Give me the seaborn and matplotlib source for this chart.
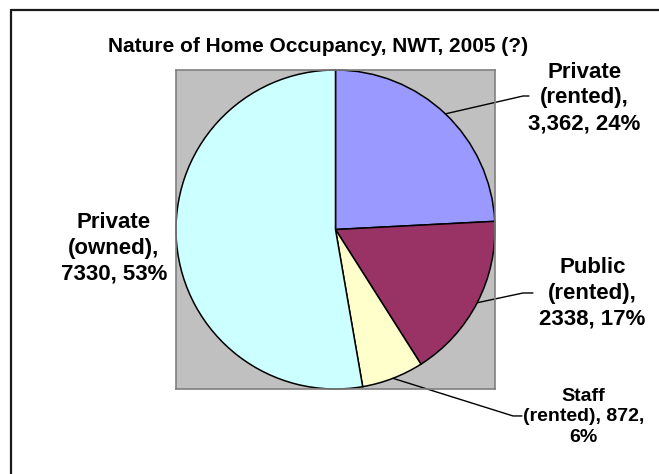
import matplotlib
matplotlib.use("Agg")
import matplotlib.pyplot as plt
import numpy as np
import seaborn as sns
from matplotlib.lines import Line2D

# data
categories = ["Private (rented)", "Public (rented)", "Staff (rented)", "Private (owned)"]
counts = [3362, 2338, 872, 7330]
count_labels = ["3,362", "2338", "872", "7330"]
colors = ["#9999FF", "#993366", "#FFFFCC", "#CCFFFF"]
title = "Nature of Home Occupancy, NWT, 2005 (?)"

sns.set_theme(style="white")
plt.rcParams["font.family"] = ["Liberation Sans", "DejaVu Sans"]

W, H = 659, 474
fig = plt.figure(figsize=(W / 100, H / 100), dpi=100)
fig.patch.set_facecolor("white")

# chart-area border (left and top edges visible, rest cropped)
fig.add_artist(Line2D([11 / W, 11 / W], [0, 1 - 10 / H], color="#1a1a1a", lw=1.6))
fig.add_artist(Line2D([11 / W, 1], [1 - 10 / H, 1 - 10 / H], color="#1a1a1a", lw=1.6))

# plot area: gray square holding the pie
ax = fig.add_axes([176 / W, (H - 389) / H, 319 / W, 319 / H])
wedges, _ = ax.pie(counts, colors=colors, startangle=90, counterclock=False,
                   radius=1, wedgeprops=dict(edgecolor="black", linewidth=1.1))
ax.set_xlim(-1, 1)
ax.set_ylim(-1, 1)
ax.set_frame_on(True)
ax.set_facecolor("#C0C0C0")
for sp in ax.spines.values():
    sp.set_visible(True)
    sp.set_color("#808080")
    sp.set_linewidth(1.2)

total = sum(counts)
texts = []
for cat, c, cl in zip(categories, counts, count_labels):
    pct = round(100 * c / total)
    name, kind = cat.split(" ")
    texts.append((name, kind, cl, pct))

# label layout (data units, pie radius = 1)
text_pos = [(1.56, 0.825), (1.61, -0.40), (1.555, -1.175), (-1.39, -0.12)]
elbows = [[(1.176, 0.837), (1.213, 0.837)],
          [(1.176, -0.398), (1.238, -0.398)],
          [(1.113, -1.169), (1.169, -1.169)],
          None]
sizes = [16, 16, 14, 16]

for w, (name, kind, cl, pct), pos, elb, fs in zip(wedges, texts, text_pos, elbows, sizes):
    if name == "Staff":
        s = f"{name}\n{kind}, {cl},\n{pct}%"
    else:
        s = f"{name}\n{kind},\n{cl}, {pct}%"
    ax.text(pos[0], pos[1], s, ha="center", va="center", fontsize=fs,
            fontweight="bold", linespacing=1.3, color="black", clip_on=False)
    if elb is not None:
        mid = np.deg2rad((w.theta1 + w.theta2) / 2)
        xs = [np.cos(mid)] + [p[0] for p in elb]
        ys = [np.sin(mid)] + [p[1] for p in elb]
        ax.plot(xs, ys, color="black", lw=1.0, clip_on=False)

fig.text(318 / W, 1 - 47 / H, title, ha="center", va="center",
         fontsize=15, fontweight="bold", color="black")

fig.savefig("out.png", dpi=100)
